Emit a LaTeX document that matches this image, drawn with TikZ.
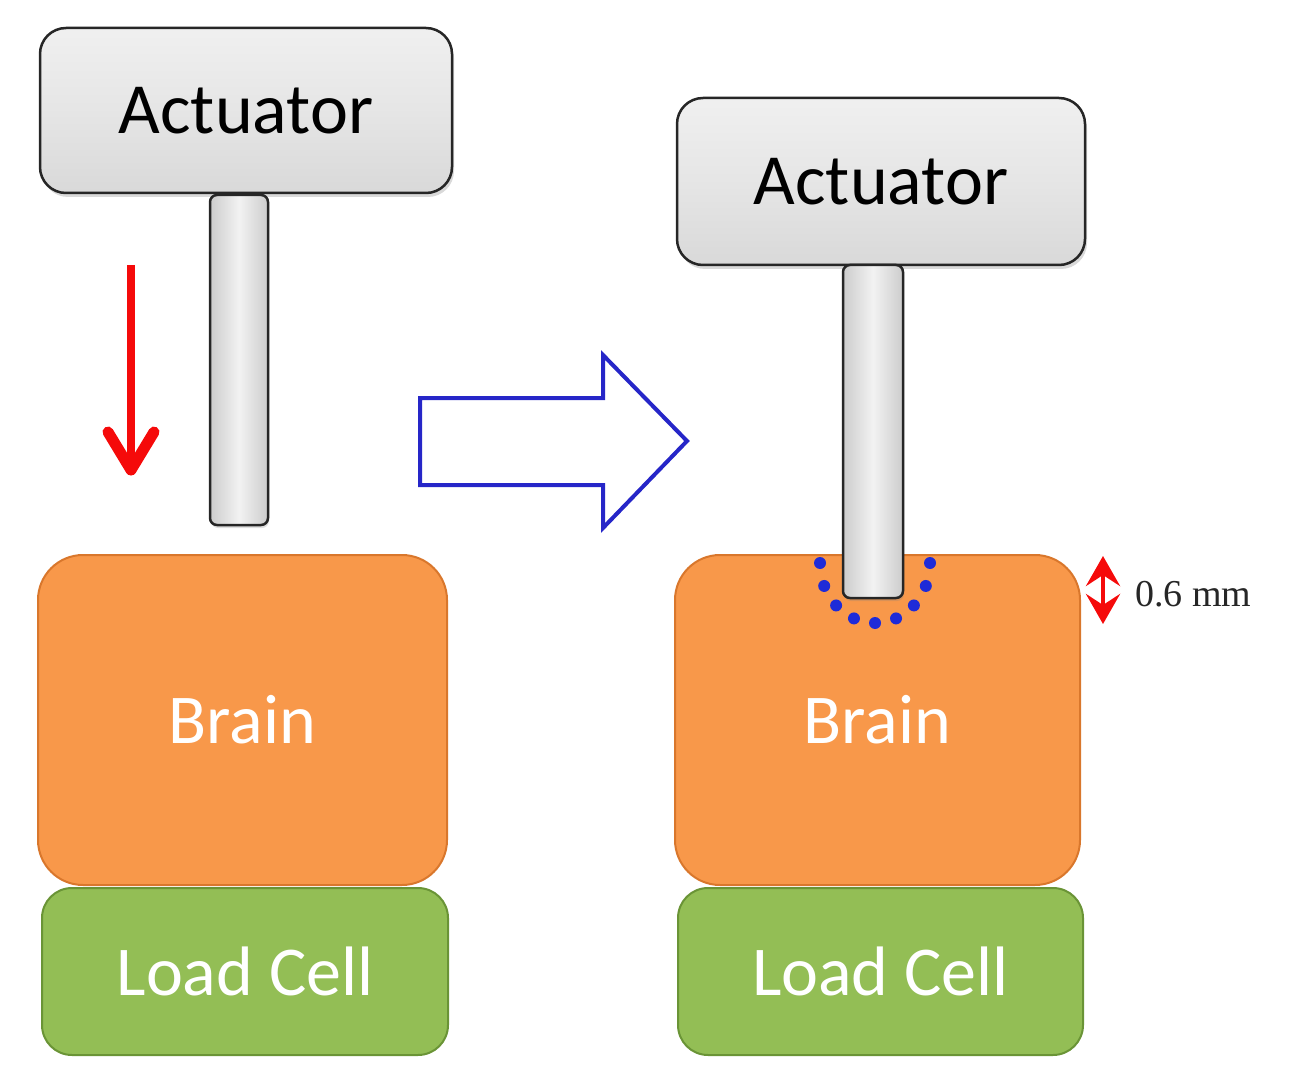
\documentclass[tikz,border=0pt]{standalone}
\usepackage{fontspec}
\setmainfont{Liberation Serif}
\newfontfamily\boxfont{Carlito}
\usetikzlibrary{arrows.meta,shadows}
\definecolor{brainfill}{HTML}{F8984A}
\definecolor{brainedge}{HTML}{D9772C}
\definecolor{cellfill}{HTML}{93BE55}
\definecolor{celledge}{HTML}{6A9436}
\definecolor{bluearr}{HTML}{2626C8}
\definecolor{dotblue}{HTML}{1E2BD8}
\definecolor{redarr}{HTML}{F50A0A}
\tikzset{
  actbox/.style={draw=black!85, line width=2.5pt, rounded corners=26pt,
    top color=gray!12, bottom color=gray!30, middle color=gray!20,
    drop shadow={shadow xshift=2pt, shadow yshift=-4pt, opacity=0.3},
    font=\boxfont\fontsize{72}{80}\selectfont, text=black},
  stembox/.style={draw=black!85, line width=2.5pt, rounded corners=7pt,
    left color=gray!40, right color=gray!40, middle color=gray!10,
    drop shadow={shadow xshift=1pt, shadow yshift=-3pt, opacity=0.25}},
  brainbox/.style={draw=brainedge, line width=2pt, rounded corners=45pt,
    fill=brainfill, text=white, font=\boxfont\fontsize{70}{80}\selectfont},
  cellbox/.style={draw=celledge, line width=2pt, rounded corners=30pt,
    fill=cellfill, text=white, font=\boxfont\fontsize{70}{80}\selectfont},
  inner sep=0pt, outer sep=0pt
}
\begin{document}
\begin{tikzpicture}[x=1pt,y=-1pt]
\useasboundingbox (0,0) rectangle (1306,1067);
% ---- left assembly
\node[brainbox, minimum width=409pt, minimum height=330pt] (brainL) at (242.5,720) {Brain};
\node[cellbox, minimum width=406pt, minimum height=167pt] (cellL) at (245,971.5) {Load Cell};
\node[actbox, minimum width=412pt, minimum height=165pt] (actL) at (246,110.5) {Actuator};
\node[stembox, minimum width=58pt, minimum height=330pt] (stemL) at (239,360) {};
% red arrow
\coordinate (rA) at (131,265);
\coordinate (rB) at (131,470);
\draw[redarr, line width=8pt] (rA) -- (rB);
\draw[redarr, line width=11pt, line cap=round, line join=round]
  ([xshift=-23pt,yshift=38pt]rB) -- (rB) -- ([xshift=23pt,yshift=38pt]rB);
% blue transition arrow
\draw[bluearr, line width=4pt, line join=miter]
  (420,398) -- (603,398) -- (603,355) -- (687,441) -- (603,528) -- (603,485) -- (420,485) -- cycle;
% ---- right assembly
\node[brainbox, minimum width=405pt, minimum height=330pt] (brainR) at (877.5,720) {Brain};
\node[cellbox, minimum width=405pt, minimum height=167pt] (cellR) at (880.5,971.5) {Load Cell};
\foreach \t in {0,22.5,...,180} {
  \fill[dotblue] ({875+55*cos(\t)},{563+60*sin(\t)}) circle (6pt);
}
\node[actbox, minimum width=408pt, minimum height=167pt] (actR) at (881,181.5) {Actuator};
\node[stembox, minimum width=60pt, minimum height=333pt] (stemR) at (873,431.5) {};
% indentation marker
\coordinate (dA) at (1103,556);
\coordinate (dB) at (1103,624);
\draw[redarr, line width=4.5pt, {Stealth[length=30pt,width=34pt,inset=11pt]}-{Stealth[length=30pt,width=34pt,inset=11pt]}] (dA) -- (dB);
\node[anchor=west, font=\fontsize{38}{40}\selectfont, text=black!85] (lab) at (1135,594) {0.6 mm};
\end{tikzpicture}
\end{document}
